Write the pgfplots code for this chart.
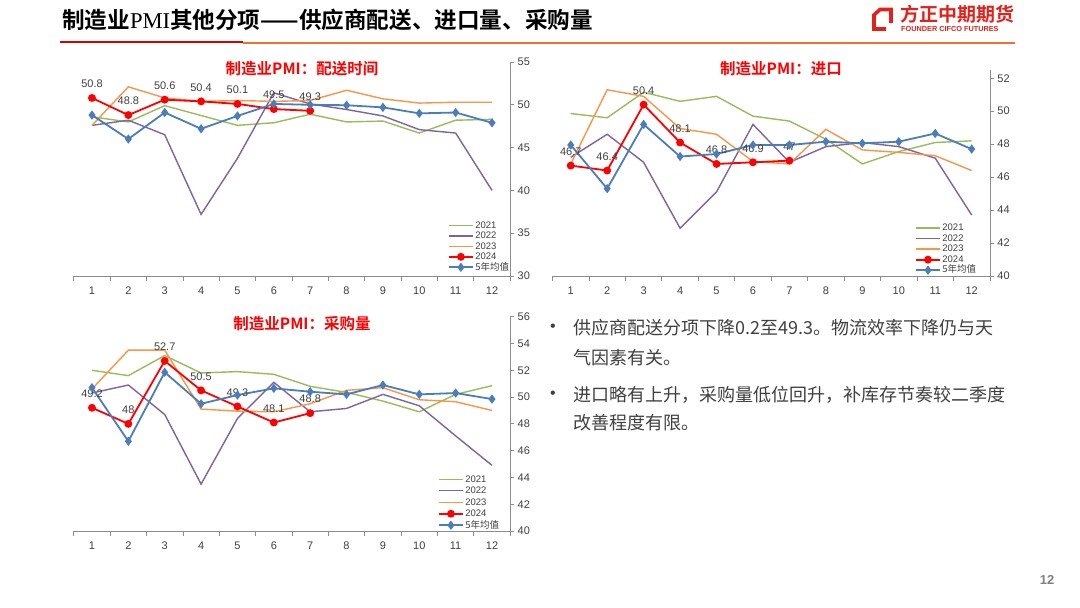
\documentclass[border=0pt]{standalone}
\usepackage{pgfplots}
\pgfplotsset{compat=1.18}
\usepackage{fontspec}
\setmainfont{Liberation Sans}
\newfontfamily\cjk[BoldFont={Noto Sans CJK SC Bold}]{Noto Sans CJK SC}
\newfontfamily\serif{Liberation Serif}
\definecolor{c21}{HTML}{9BBB59}
\definecolor{c22}{HTML}{7F63A1}
\definecolor{c23}{HTML}{F79646}
\definecolor{c24}{HTML}{FF0000}
\definecolor{cavg}{HTML}{4A7EBB}
\definecolor{axisgray}{HTML}{8C8C8C}
\definecolor{labelgray}{HTML}{404040}
\definecolor{logored}{HTML}{E3211B}
\definecolor{lineorange}{HTML}{F07030}
\pgfplotsset{
  pmi/.style={
    scale only axis,
    xmin=0.5, xmax=12.5,
    axis x line=bottom, axis y line=right,
    axis line style={-, draw=axisgray, line width=0.8pt},
    xtick={1,...,12}, minor xtick={0.5,1.5,...,12.5},
    every major x tick/.append style={draw=none},
    tick align=outside, major tick length=4pt, minor tick length=5pt,
    every minor x tick/.append style={draw=axisgray, line width=0.8pt},
    every major y tick/.append style={draw=axisgray, line width=0.8pt},
    tick label style={font=\fontsize{11}{12}\selectfont, text=labelgray},
    xticklabel style={yshift=-3pt},
    /pgf/number format/assume math mode=true,
    clip=false,
    legend cell align=left,
    legend style={draw=none, fill=none, inner sep=0pt, outer sep=0pt,
      anchor=south west, row sep=0pt,
      font=\fontsize{9.5}{10}\selectfont, text=labelgray,
      nodes={inner sep=0.5pt, text height=7.5pt, text depth=2pt},
      /tikz/every odd column/.style={column sep=1pt}},
    legend image code/.code={\draw[mark repeat=2,mark phase=2,#1] plot coordinates {(0pt,0pt) (12pt,0pt) (24pt,0pt)};},
    nodes near coords style={font=\fontsize{11}{12}\selectfont, text=labelgray, anchor=center, yshift=14pt},
  },
  s21/.style={c21, line width=1.4pt, mark=none},
  s22/.style={c22, line width=1.4pt, mark=none},
  s23/.style={c23, line width=1.4pt, mark=none},
  s24/.style={c24, line width=1.8pt, mark=*, mark size=3pt, mark options={fill=c24, draw=c24},
     nodes near coords, point meta=explicit symbolic},
  savg/.style={cavg, line width=1.8pt, mark=diamond*, mark size=3.2pt, mark options={fill=cavg, draw=cavg}},
}
\begin{document}
\begin{tikzpicture}[x=1pt,y=1pt]
\path[fill=white] (0,0) rectangle (1080,-608);
% header
\node[anchor=west, inner sep=0pt, font=\cjk\bfseries\fontsize{22.6}{25}\selectfont, text=black] at (62,-20)
  {制造业{\serif\mdseries PMI}其他分项——供应商配送、进口量、采购量};
\draw[red!85!black, line width=2.2pt] (60,-42) -- (243,-42);
\draw[lineorange, line width=2pt] (243,-42.5) -- (1015,-42.5);
% logo
\draw[logored, line width=3.6pt, line join=miter] (886,-29) -- (874,-29) -- (874,-15) -- (880,-9.5) -- (891,-9.5) -- (891,-23);
\node[anchor=west, inner sep=0pt, font=\cjk\bfseries\fontsize{19}{20}\selectfont, text=logored] at (900,-14) {方正中期期货};
\node[anchor=west, inner sep=0pt, font=\bfseries\fontsize{7.3}{8}\selectfont, text=logored] at (901,-29) {FOUNDER CIFCO FUTURES};
% page number
\node[font=\bfseries\fontsize{13}{14}\selectfont, text=gray] at (1047,-580) {12};
% bullets
\begin{scope}[every node/.style={anchor=west, inner sep=0pt, font=\cjk\fontsize{18}{20}\selectfont, text=labelgray}]
\node[anchor=center, font=\fontsize{16}{16}\selectfont] at (553,-328) {•};
\node at (573,-328) {供应商配送分项下降0.2至49.3。物流效率下降仍与天};
\node at (573,-358) {气因素有关。};
\node[anchor=center, font=\fontsize{16}{16}\selectfont] at (553,-395) {•};
\node at (573,-395) {进口略有上升，采购量低位回升，补库存节奏较二季度};
\node at (573,-423) {改善程度有限。};
\end{scope}
% chart titles
\node[font=\cjk\bfseries\fontsize{15.5}{17}\selectfont, text=red] at (302,-69) {制造业PMI：配送时间};
\node[font=\cjk\bfseries\fontsize{15.5}{17}\selectfont, text=red] at (781,-69) {制造业PMI：进口};
\node[font=\cjk\bfseries\fontsize{15.5}{17}\selectfont, text=red] at (302,-324) {制造业PMI：采购量};

% ---------- chart 1
\begin{axis}[pmi, at={(73.8pt,-276pt)}, anchor=south west, width=436.4pt, height=214pt,
  ymin=30, ymax=55, ytick={30,35,...,55},
  legend style={at={(axis description cs:0.8575,0.016)}}]
\addplot[s21] coordinates {(1,48.6)(2,48.0)(3,49.9)(4,48.75)(5,47.6)(6,47.9)(7,48.9)(8,48.0)(9,48.1)(10,46.7)(11,48.2)(12,48.3)};
\addplot[s22] coordinates {(1,47.6)(2,48.2)(3,46.5)(4,37.2)(5,43.75)(6,51.4)(7,50.1)(8,49.45)(9,48.7)(10,47.1)(11,46.7)(12,40.0)};
\addplot[s23] coordinates {(1,47.6)(2,52.1)(3,50.8)(4,50.4)(5,50.5)(6,50.4)(7,50.5)(8,51.7)(9,50.7)(10,50.2)(11,50.3)(12,50.3)};
\addplot[s24] coordinates {(1,50.8)[50.8] (2,48.8)[48.8] (3,50.6)[50.6] (4,50.4)[50.4] (5,50.1)[50.1] (6,49.5)[49.5] (7,49.3)[49.3]};
\addplot[savg] coordinates {(1,48.8)(2,46.0)(3,49.1)(4,47.2)(5,48.7)(6,50.1)(7,50.0)(8,49.95)(9,49.7)(10,49.0)(11,49.1)(12,47.9)};
\legend{2021,2022,2023,2024,{\cjk 5年均值}}
\end{axis}

% ---------- chart 2
\begin{axis}[pmi, at={(552.5pt,-276pt)}, anchor=south west, width=437.4pt, height=206pt,
  ymin=40, ymax=52.5, ytick={40,42,...,52},
  legend style={at={(axis description cs:0.829,0.003)}}]
\addplot[s21] coordinates {(1,49.86)(2,49.6)(3,51.15)(4,50.6)(5,50.9)(6,49.7)(7,49.4)(8,48.3)(9,46.8)(10,47.55)(11,48.1)(12,48.2)};
\addplot[s22] coordinates {(1,47.2)(2,48.6)(3,46.9)(4,42.9)(5,45.1)(6,49.2)(7,46.9)(8,47.85)(9,48.1)(10,47.85)(11,47.15)(12,43.7)};
\addplot[s23] coordinates {(1,46.8)(2,51.3)(3,50.9)(4,48.95)(5,48.6)(6,46.95)(7,46.8)(8,48.9)(9,47.65)(10,47.5)(11,47.3)(12,46.4)};
\addplot[s24] coordinates {(1,46.7)[46.7] (2,46.4)[46.4] (3,50.4)[50.4] (4,48.1)[48.1] (5,46.8)[46.8] (6,46.9)[46.9] (7,47.0)[47]};
\addplot[savg] coordinates {(1,47.95)(2,45.3)(3,49.2)(4,47.25)(5,47.4)(6,47.95)(7,47.95)(8,48.15)(9,48.05)(10,48.15)(11,48.65)(12,47.7)};
\legend{2021,2022,2023,2024,{\cjk 5年均值}}
\end{axis}

% ---------- chart 3
\begin{axis}[pmi, at={(73.8pt,-531pt)}, anchor=south west, width=436.4pt, height=214.3pt,
  ymin=40, ymax=56, ytick={40,42,...,56},
  legend style={at={(axis description cs:0.8346,0.0)}, nodes={text height=8pt, text depth=2.5pt}}]
\addplot[s21] coordinates {(1,52.0)(2,51.6)(3,53.1)(4,51.8)(5,51.9)(6,51.7)(7,50.8)(8,50.35)(9,49.7)(10,48.9)(11,50.2)(12,50.85)};
\addplot[s22] coordinates {(1,50.3)(2,50.9)(3,48.7)(4,43.5)(5,48.4)(6,51.1)(7,48.9)(8,49.15)(9,50.2)(10,49.35)(11,47.1)(12,44.9)};
\addplot[s23] coordinates {(1,50.6)(2,53.5)(3,53.5)(4,49.1)(5,48.95)(6,48.9)(7,49.5)(8,50.5)(9,50.7)(10,49.8)(11,49.65)(12,49.0)};
\addplot[s24] coordinates {(1,49.2)[49.2] (2,48.0)[48] (3,52.7)[52.7] (4,50.5)[50.5] (5,49.3)[49.3] (6,48.1)[48.1] (7,48.8)[48.8]};
\addplot[savg] coordinates {(1,50.7)(2,46.7)(3,51.85)(4,49.5)(5,50.15)(6,50.65)(7,50.4)(8,50.2)(9,50.9)(10,50.2)(11,50.3)(12,49.85)};
\legend{2021,2022,2023,2024,{\cjk 5年均值}}
\end{axis}
\end{tikzpicture}
\end{document}
